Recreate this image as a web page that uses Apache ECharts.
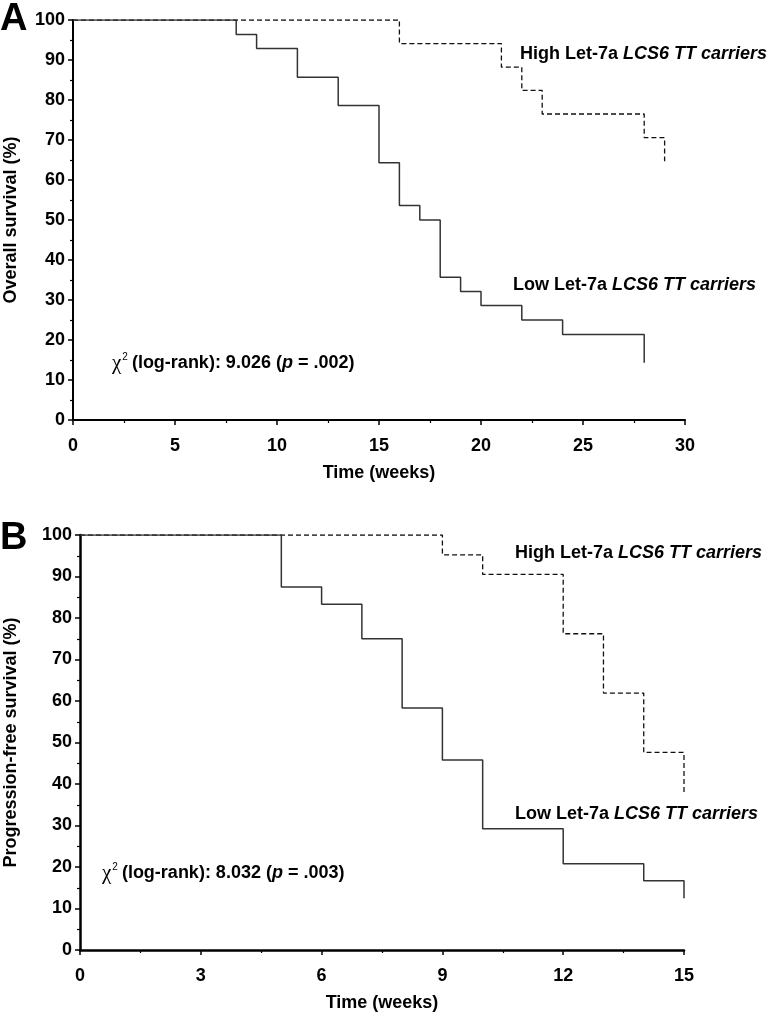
<!DOCTYPE html>
<html>
<head>
<meta charset="utf-8">
<script src="https://cdn.jsdelivr.net/npm/echarts@6/dist/echarts.min.js"></script>
<style>html,body{margin:0;padding:0;background:#fff}#c{width:768px;height:1016px}</style>
</head>
<body>
<div id="c"></div>
<script>
// Panel A: overall survival
const timesA_low = [0, 8, 9, 11, 13, 15, 16, 17, 18, 19, 20, 22, 24, 28];
const survA_low = [100, 96.4, 92.9, 85.7, 78.6, 64.3, 53.6, 50.0, 35.7, 32.1, 28.6, 25.0, 21.4, 14.3];
const timesA_high = [0, 16, 21, 22, 23, 28, 29];
const survA_high = [100, 94.1, 88.2, 82.4, 76.5, 70.6, 64.7];
// Panel B: progression-free survival
const timesB_low = [0, 5, 6, 7, 8, 9, 10, 12, 14, 15];
const survB_low = [100, 87.5, 83.3, 75.0, 58.3, 45.8, 29.2, 20.8, 16.7, 12.5];
const timesB_high = [0, 9, 10, 12, 13, 14, 15];
const survB_high = [100, 95.2, 90.5, 76.2, 61.9, 47.6, 38.1];

const yTicks = [0, 10, 20, 30, 40, 50, 60, 70, 80, 90, 100];
const xTicksA = [0, 5, 10, 15, 20, 25, 30];
const xTicksB = [0, 3, 6, 9, 12, 15];

const labelHigh = ['High Let-7a ', 'LCS6 TT carriers'];
const labelLow = ['Low Let-7a ', 'LCS6 TT carriers'];
const chiA = ['9.026', '.002'];
const chiB = ['8.032', '.003'];

const FONT = "'Liberation Sans', Arial, Helvetica, sans-serif";
const zip = (t, s) => t.map((v, i) => [v, s[i]]);

function xAxis(idx, ticks, lw) {
  return {
    type: 'value', gridIndex: idx, min: ticks[0], max: ticks[ticks.length - 1],
    interval: ticks[1] - ticks[0],
    name: 'Time (weeks)', nameLocation: 'middle', nameGap: 44,
    nameTextStyle: {fontFamily: FONT, fontWeight: 'bold', fontSize: 18, color: '#000'},
    axisLine: {lineStyle: {color: '#000', width: lw}},
    axisTick: {show: true, length: 5, lineStyle: {color: '#000', width: 1.5}},
    minorTick: {show: true, splitNumber: 2, length: 3, lineStyle: {color: '#000', width: 1.2}},
    splitLine: {show: false}, minorSplitLine: {show: false},
    axisLabel: {fontFamily: FONT, fontWeight: 'bold', fontSize: 18, color: '#000', margin: 17}
  };
}
function yAxis(idx, name, lw, gap) {
  return {
    type: 'value', gridIndex: idx, min: yTicks[0], max: yTicks[yTicks.length - 1], interval: 10,
    name: name, nameLocation: 'middle', nameGap: gap, nameRotate: 90,
    nameTextStyle: {fontFamily: FONT, fontWeight: 'bold', fontSize: 18, color: '#000'},
    axisLine: {lineStyle: {color: '#000', width: lw}},
    axisTick: {show: true, length: 5, lineStyle: {color: '#000', width: 1.5}},
    minorTick: {show: true, splitNumber: 2, length: 3, lineStyle: {color: '#000', width: 1.2}},
    splitLine: {show: false}, minorSplitLine: {show: false},
    axisLabel: {fontFamily: FONT, fontWeight: 'bold', fontSize: 18, color: '#000', margin: 8}
  };
}
function step(xi, data, dashed) {
  return {
    type: 'line', xAxisIndex: xi, yAxisIndex: xi, step: 'end', data: data,
    symbol: 'none', silent: true, animation: false, z: dashed ? 2 : 3,
    lineStyle: dashed ? {color: '#111', width: 1.3, type: [5, 3]} : {color: '#333', width: 1.5}
  };
}
const rich = {
  b: {fontFamily: FONT, fontWeight: 'bold', fontSize: 18, fill: '#000'},
  i: {fontFamily: FONT, fontWeight: 'bold', fontStyle: 'italic', fontSize: 18, fill: '#000'},
  c: {fontFamily: "'Liberation Serif', 'DejaVu Serif', serif", fontSize: 21, fill: '#000'},
  s: {fontFamily: FONT, fontSize: 10, fill: '#000', verticalAlign: 'top', padding: [0, 4, 8, 1]}
};
function txt(x, y, str) {
  return {type: 'text', x: x, y: y, silent: true,
    style: {text: str, rich: rich, verticalAlign: 'middle', align: 'left'}};
}
function groupLabel(parts) { return '{b|' + parts[0] + '}{i|' + parts[1] + '}'; }
function chi(parts) { return '{c|χ}{s|2}{b|(log-rank): ' + parts[0] + ' (}{i|p}{b| = ' + parts[1] + ')}'; }

const chart = echarts.init(document.getElementById('c'), null, {renderer: 'canvas'});
chart.setOption({
  animation: false,
  backgroundColor: '#fff',
  grid: [
    {left: 73, top: 20, width: 612, height: 400, outerBoundsMode: 'none', containLabel: false},
    {left: 80, top: 535, width: 604, height: 415, outerBoundsMode: 'none', containLabel: false}
  ],
  xAxis: [xAxis(0, xTicksA, 2), xAxis(1, xTicksB, 2.5)],
  yAxis: [yAxis(0, 'Overall survival (%)', 2, 53), yAxis(1, 'Progression-free survival (%)', 2.5, 60)],
  series: [
    step(0, zip(timesA_high, survA_high), true),
    step(0, zip(timesA_low, survA_low), false),
    step(1, zip(timesB_high, survB_high), true),
    step(1, zip(timesB_low, survB_low), false)
  ],
  graphic: [
    {type: 'text', x: 0, y: 1, silent: true, style: {text: 'A', fontFamily: FONT, fontWeight: 'bold', fontSize: 38, fill: '#000'}},
    {type: 'text', x: 0, y: 520, silent: true, style: {text: 'B', fontFamily: FONT, fontWeight: 'bold', fontSize: 38, fill: '#000'}},
    txt(520, 54, groupLabel(labelHigh)),
    txt(513, 285, groupLabel(labelLow)),
    txt(112, 363, chi(chiA)),
    txt(515, 553, groupLabel(labelHigh)),
    txt(515, 814, groupLabel(labelLow)),
    txt(102, 873, chi(chiB))
  ]
});
</script>
</body>
</html>
